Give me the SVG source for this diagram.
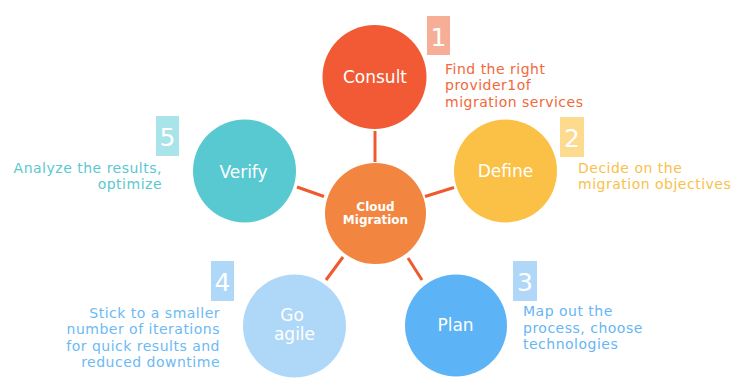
<svg xmlns="http://www.w3.org/2000/svg" width="749" height="385" viewBox="0 0 749 385">
<style>
  .node-text { font-family: "DejaVu Sans", Verdana, sans-serif; font-size: 17px; fill: #ffffff; text-anchor: middle; }
  .center-text { font-family: "DejaVu Sans", Verdana, sans-serif; font-size: 12px; font-weight: bold; fill: #ffffff; text-anchor: middle; }
  .num { font-family: "DejaVu Sans", Verdana, sans-serif; font-size: 25px; fill: #ffffff; text-anchor: middle; }
  .label { font-family: "DejaVu Sans", Verdana, sans-serif; font-size: 14px; letter-spacing: 0.5px; }
  .conn { stroke: #EE5A2C; stroke-width: 3; stroke-linecap: butt; fill: none; }
</style>
<rect width="749" height="385" fill="#ffffff"/>
<g id="connectors">
  <line class="conn" x1="375" y1="131" x2="375" y2="162"/>
  <line class="conn" x1="425" y1="196.5" x2="454" y2="187.5"/>
  <line class="conn" x1="297" y1="187" x2="324" y2="196.5"/>
  <line class="conn" x1="343" y1="257" x2="326" y2="280"/>
  <line class="conn" x1="408" y1="258" x2="422" y2="280"/>
</g>
<g id="center">
  <circle cx="375.5" cy="213.5" r="50.5" fill="#F28540"/>
  <text class="center-text" x="375.5" y="210.5">Cloud</text>
  <text class="center-text" x="375.5" y="224">Migration</text>
</g>
<g id="consult">
  <circle cx="374.5" cy="77" r="52" fill="#F15A35"/>
  <text class="node-text" x="375" y="82.5">Consult</text>
  <rect x="427" y="16" width="23" height="39" fill="#F6AE96"/>
  <text class="num" x="438.5" y="46">1</text>
  <text class="label" fill="#F2683A" x="445" y="73.5">Find the right</text>
  <text class="label" fill="#F2683A" x="445" y="90">provider1of</text>
  <text class="label" fill="#F2683A" x="445" y="106.5">migration services</text>
</g>
<g id="define">
  <circle cx="505.5" cy="171" r="51.5" fill="#FAC146"/>
  <text class="node-text" x="505.5" y="177">Define</text>
  <rect x="560" y="117" width="24" height="40" fill="#FDDB8E"/>
  <text class="num" x="572" y="147">2</text>
  <text class="label" fill="#F9C14A" x="578" y="172.5">Decide on the</text>
  <text class="label" fill="#F9C14A" x="578" y="189">migration objectives</text>
</g>
<g id="plan">
  <circle cx="456" cy="325.5" r="51" fill="#5CB3F6"/>
  <text class="node-text" x="455.5" y="331">Plan</text>
  <rect x="513" y="261" width="24" height="40" fill="#B0D7F8"/>
  <text class="num" x="525" y="291">3</text>
  <text class="label" fill="#66B6F5" x="523" y="316">Map out the</text>
  <text class="label" fill="#66B6F5" x="523" y="332.5">process, choose</text>
  <text class="label" fill="#66B6F5" x="523" y="349">technologies</text>
</g>
<g id="go-agile">
  <circle cx="294.5" cy="326" r="51.5" fill="#AFD8F8"/>
  <text class="node-text" x="292" y="321">Go</text>
  <text class="node-text" x="294.5" y="339.5">agile</text>
  <rect x="211" y="261" width="23" height="40" fill="#AFD8F8"/>
  <text class="num" x="222.5" y="291">4</text>
  <text class="label" fill="#6CBAF5" x="220" y="317.5" text-anchor="end">Stick to a smaller</text>
  <text class="label" fill="#6CBAF5" x="220" y="334" text-anchor="end">number of iterations</text>
  <text class="label" fill="#6CBAF5" x="220" y="350.5" text-anchor="end">for quick results and</text>
  <text class="label" fill="#6CBAF5" x="220" y="367" text-anchor="end">reduced downtime</text>
</g>
<g id="verify">
  <circle cx="244.5" cy="171" r="51.5" fill="#58C9D1"/>
  <text class="node-text" x="243.5" y="177.5">Verify</text>
  <rect x="156" y="116" width="23" height="40" fill="#A8E4EA"/>
  <text class="num" x="167.5" y="146">5</text>
  <text class="label" fill="#5BC8D0" x="162" y="172.5" text-anchor="end">Analyze the results,</text>
  <text class="label" fill="#5BC8D0" x="162" y="189" text-anchor="end">optimize</text>
</g>
</svg>
